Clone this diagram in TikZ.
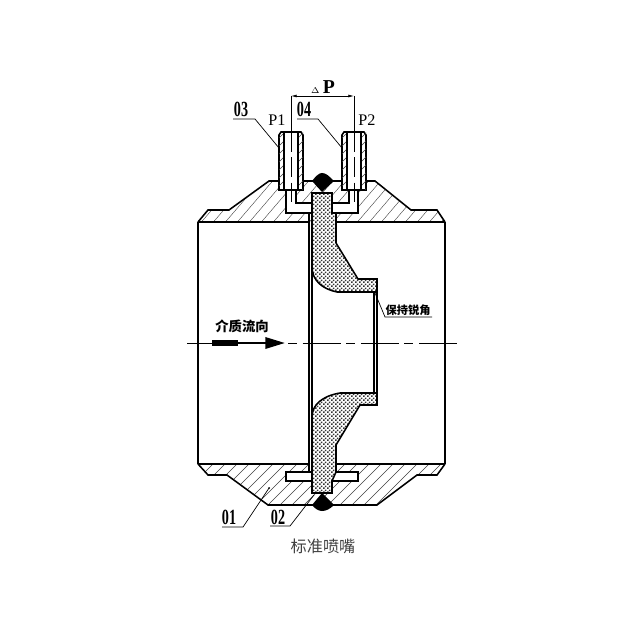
\documentclass[tikz,border=0pt]{standalone}
\usepackage{fontspec}
\setmainfont{Liberation Serif}
\newfontfamily\cjk{Noto Sans CJK SC}
\usetikzlibrary{patterns,arrows.meta}
\pgfdeclarepatternformonly{checks}{\pgfqpoint{0pt}{0pt}}{\pgfqpoint{3pt}{3pt}}{\pgfqpoint{3pt}{3pt}}{
	\pgfpathrectangle{\pgfqpoint{0pt}{0pt}}{\pgfqpoint{1.35pt}{1.35pt}}
	\pgfpathrectangle{\pgfqpoint{1.5pt}{1.5pt}}{\pgfqpoint{1.35pt}{1.35pt}}
	\pgfusepath{fill}
}
\tikzset{
	body/.style={line width=1.1pt,line join=miter},
	thin/.style={line width=0.5pt},
	hatch/.style={line width=0.3pt,black!75},
	mesh/.style={body,preaction={fill=white},pattern=checks,pattern color=black!80},
	axis/.style={line width=0.6pt,dash pattern=on 6.4pt off 4pt on 27pt off 4pt},
	bore/.style={line width=0.5pt,dash pattern=on 14pt off 4pt},
	num/.style={font=\bfseries\fontsize{14}{14}\selectfont,inner sep=0pt},
	tag/.style={font=\cjk\bfseries\fontsize{9.5}{10}\selectfont,inner sep=0pt},
}
\begin{document}
\begin{tikzpicture}[x=0.25mm,y=-0.25mm]
	\useasboundingbox (0,0) rectangle (640,640);
	% upper flange
	\begin{scope}
		\clip (198,222) -- (208,210) -- (229,210) -- (269,181) -- (375,181) -- (411,210) -- (437,210) -- (445,222) -- cycle;
		\foreach \i in {0,12,...,330}
			\draw [hatch] (150+\i,240) -- (210+\i,170);
	\end{scope}
	% lower flange
	\begin{scope}
		\clip (198,464) -- (208,475) -- (227,475) -- (268,505) -- (377,505) -- (417,475) -- (437,475) -- (445,464) -- cycle;
		\foreach \i in {0,12,...,330}
			\draw [hatch] (150+\i,515) -- (210+\i,455);
	\end{scope}
	\draw [body] (198,222) -- (208,210) -- (229,210) -- (269,181) -- (375,181) -- (411,210) -- (437,210) -- (445,222);
	\draw [body] (198,222) -- (309,222);
	\draw [body] (336,222) -- (445,222);
	\draw [body] (198,464) -- (208,475) -- (227,475) -- (268,505) -- (377,505) -- (417,475) -- (437,475) -- (445,464);
	\draw [body] (198,464) -- (309,464);
	\draw [body] (336,464) -- (445,464);
	% pipe walls
	\draw [body] (198,222) -- (198,464);
	\draw [body] (445,222) -- (445,464);
	\draw [body] (374,292) -- (374,393);
	\draw [body] (377,279) -- (377,405);
	% pressure slots
	\draw [body,fill=white] (286,190) -- (286,213) -- (358,213) -- (358,190) -- (349,190) -- (349,203) -- (296,203) -- (296,190) -- cycle;
	\draw [body,fill=white] (286,472) rectangle (358,481);
	\fill [white] (309,222) rectangle (336,464);
	\draw [body] (309,213) -- (309,472);
	\draw [body] (312,267) -- (312,417);
	% plate
	\draw [mesh]
		(312,193) -- (332,193) -- (332,213) -- (336,213) -- (336,243) -- (358,279) -- (377,279) -- (377,292) -- (337,292)
		.. controls (322,289) and (312,280) .. (312,267) -- cycle;
	\draw [mesh]
		(312,493) -- (332,493) -- (332,481) -- (336,472) -- (336,445) -- (360,405) -- (377,405) -- (377,393) -- (340,393)
		.. controls (322,396) and (312,405) .. (312,417) -- cycle;
	% welds
	\fill (322,192) -- (312,181) .. controls (316,176) and (319,173) .. (322,173) .. controls (326,173) and (329,176) .. (334,181) -- cycle;
	\fill (322,493) -- (312,505) .. controls (315,509) and (319,511) .. (322,511) .. controls (326,511) and (330,509) .. (334,505) -- cycle;
	% bosses
	\foreach \bx/\by in {279/284, 342/347} {
		\draw [body,fill=white] (\bx,190) -- (\bx,135) -- (\bx+2,132) -- (\bx+22,132) -- (\bx+24,135) -- (\bx+24,190) -- cycle;
		\begin{scope}
			\clip (\bx,132) rectangle (\by,190);
			\foreach \i in {0,8,...,64}
				\draw [hatch] (\bx-2,132+\i) -- (\bx+8,122+\i);
		\end{scope}
		\begin{scope}
			\clip (\by+14,132) rectangle (\bx+24,190);
			\foreach \i in {0,8,...,64}
				\draw [hatch] (\by+12,132+\i) -- (\by+25,119+\i);
		\end{scope}
		\draw [body] (\by,132) -- (\by,190);
		\draw [body] (\by+14,132) -- (\by+14,190);
	}
	% dimension
	\coordinate (p1top) at (291,96);
	\coordinate (p2top) at (354,96);
	\coordinate (p1mid) at (291,132);
	\coordinate (p2mid) at (354,132);
	\coordinate (p1low) at (291,203);
	\coordinate (p2low) at (354,203);
	\draw [thin] (p1top) -- (p1mid);
	\draw [thin] (p2top) -- (p2mid);
	\draw [bore] (p1mid) -- (p1low);
	\draw [bore] (p2mid) -- (p2low);
	\draw [thin,{Latex[length=4pt,width=2pt]}-{Latex[length=4pt,width=2pt]}] (p1top) -- (p2top);
	\node [num] (dp) at (323,87) {{\fontsize{6}{6}\selectfont$\Delta$}\,\fontsize{14}{14}\selectfont P};
	\node [num,font=\fontsize{11.5}{12}\selectfont] (p1) at (277,120) {P1};
	\node [num,font=\fontsize{11.5}{12}\selectfont] (p2) at (367,120) {P2};
	% leaders
	\node [num,xscale=0.72,yscale=1.1] (n03) at (241,109) {03};
	\node [num,xscale=0.72,yscale=1.1] (n04) at (304,109) {04};
	\node [num,xscale=0.72,yscale=1.1] (n01) at (229,517) {01};
	\node [num,xscale=0.72,yscale=1.1] (n02) at (278,517) {02};
	\coordinate (a03) at (233,119);
	\coordinate (b03) at (255,119);
	\coordinate (c03) at (279,148);
	\coordinate (a04) at (297,119);
	\coordinate (b04) at (318,119);
	\coordinate (c04) at (342,148);
	\coordinate (a01) at (222,527);
	\coordinate (b01) at (243,527);
	\coordinate (c01) at (269,488);
	\coordinate (a02) at (270,526);
	\coordinate (b02) at (290,526);
	\coordinate (c02) at (314,495);
	\draw [thin] (a03) -- (b03) -- (c03);
	\draw [thin] (a04) -- (b04) -- (c04);
	\draw [thin] (a01) -- (b01) -- (c01);
	\draw [thin] (a02) -- (b02) -- (c02);
	\fill (c01) circle (1);
	% flow
	\coordinate (axisa) at (187,343);
	\coordinate (axisb) at (288,343);
	\coordinate (axisc) at (459,343);
	\coordinate (flowa) at (212,343);
	\coordinate (flowb) at (238,343);
	\coordinate (flowc) at (285,343);
	\draw [line width=0.6pt] (axisa) -- (flowa);
	\draw [axis] (axisb) -- (axisc);
	\draw [line width=4pt] (flowa) -- (flowb);
	\draw [line width=1.8pt,-{Triangle[length=14pt,width=8pt]}] (flowb) -- (flowc);
	\node [tag] (medium) at (242,326) {介质流向};
	% sharp edge note
	\node [tag,font=\cjk\bfseries\fontsize{8}{8}\selectfont] (edge) at (408,310) {保持锐角};
	\coordinate (edgea) at (432,317);
	\coordinate (edgeb) at (385,317);
	\coordinate (edgec) at (375,293);
	\draw [thin] (edgea) -- (edgeb) -- (edgec);
	% caption
	\node [inner sep=0pt,text=black!75,font=\cjk\fontsize{11.5}{12}\selectfont] (title) at (323,546) {标准喷嘴};
\end{tikzpicture}
\end{document}
